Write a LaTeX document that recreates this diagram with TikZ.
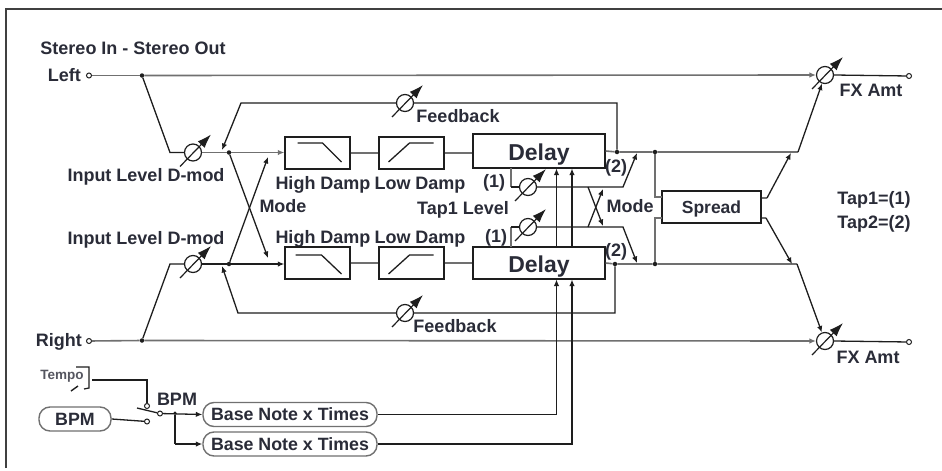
\documentclass[tikz,border=0pt]{standalone}
\usepackage{fontspec}
\setmainfont{Liberation Sans}[BoldFont={Liberation Sans Bold}]
\usetikzlibrary{arrows.meta,calc}
\definecolor{ink}{HTML}{1E1E1E}
\definecolor{txt}{HTML}{2A2C38}
\definecolor{sg}{HTML}{707070}
\tikzset{
  x=1pt,y=-1pt,
  sig/.style={draw=ink,line width=1.3pt},
  gsig/.style={draw=sg,line width=1.6pt},
  arr/.style={-{Latex[length=6.5pt,width=5.5pt]}},
  box/.style={draw=ink,line width=1.4pt,fill=white,inner sep=0pt,rectangle},
  rbox/.style={draw=sg,line width=1.4pt,fill=white,inner sep=0pt,rectangle,rounded corners=11pt,font=\fontsize{17.8}{20}\selectfont\bfseries,text=txt},
  lbl/.style={inner sep=0pt,font=\fontsize{18}{20}\selectfont\bfseries,text=txt},
  jn/.style={circle,fill=ink,inner sep=0pt,minimum size=4.5pt},
  term/.style={circle,draw=ink,line width=1pt,fill=white,inner sep=0pt,minimum size=5pt},
  potc/.style={circle,draw=ink,line width=1.2pt,fill=white,inner sep=0pt,minimum size=17pt},
  pota/.style={draw=ink,line width=1.2pt,-{Latex[length=14pt,width=9.5pt]}},
  glyph/.style={draw=ink,line width=1.3pt},
}
\newcommand{\potat}[3]{%
  \node[potc] (#1) at (#2,#3) {};%
  \draw[pota] ($(#1)+(-13,14)$) -- ($(#1)+(18,-18)$);%
}
\begin{document}
\begin{tikzpicture}
\useasboundingbox (0,0) rectangle (942,471);
\fill[white] (0,0) rectangle (942,471);
% frame
\coordinate (fa) at (6,468);
\coordinate (fb) at (6,9);
\coordinate (fc) at (942,9);
\draw[draw=ink!85,line width=2pt] (fa) -- (fb) -- (fc);

% labels
\node[lbl] (title) at (133,48) {Stereo In - Stereo Out};
\node[lbl,anchor=east] (lleft) at (81,75) {Left};
\node[lbl,anchor=east] (lright) at (82,342) {Right};
\node[lbl] (il1) at (146,177) {Input Level D-mod};
\node[lbl] (il2) at (146,240) {Input Level D-mod};
\node[lbl] (md1) at (283,206) {Mode};
\node[lbl] (md2) at (630,206) {Mode};
\node[lbl] (hl1) at (323,185) {High Damp};
\node[lbl] (hl2) at (323,239) {High Damp};
\node[lbl] (ll1) at (420,185) {Low Damp};
\node[lbl] (ll2) at (420,239) {Low Damp};
\node[lbl] (t1a) at (494,183) {(1)};
\node[lbl] (t1b) at (496,238) {(1)};
\node[lbl] (tl) at (463,210) {Tap1 Level};
\node[lbl] (t2a) at (616,168) {(2)};
\node[lbl] (t2b) at (616,252) {(2)};
\node[lbl] (fb1) at (458,116) {Feedback};
\node[lbl] (fb2) at (455,326) {Feedback};
\node[lbl] (fx1) at (871,90) {FX Amt};
\node[lbl] (fx2) at (868,357) {FX Amt};
\node[lbl] (tp1) at (874,200) {Tap1=(1)};
\node[lbl] (tp2) at (874,224) {Tap2=(2)};
\node[lbl] (bpml) at (177,399) {BPM};
\node[inner sep=0pt,font=\fontsize{13.5}{15}\selectfont\bfseries,text=txt!80] (tempo) at (62,376) {Tempo};

% terminals and junctions
\node[term] (inL) at (89,75.5) {};
\node[term] (inR) at (89,341) {};
\node[term] (outL) at (909,76) {};
\node[term] (outR) at (909,342) {};
\node[jn] (jL) at (142,75.5) {};
\node[jn] (jR) at (142,340.5) {};
\node[jn] (j1) at (229,152.5) {};
\node[jn] (j2) at (229,264) {};
\node[jn] (j3) at (617,152) {};
\node[jn] (j4) at (615,264) {};
\node[jn] (j5) at (655,152) {};
\node[jn] (j6) at (655,264) {};
\node[jn,minimum size=3.5pt] (j7) at (175,413) {};

% blocks
\node[box,minimum width=65pt,minimum height=32pt] (hd1) at (317.5,153) {};
\node[box,minimum width=65pt,minimum height=32pt] (hd2) at (317.5,263) {};
\node[box,minimum width=65pt,minimum height=32pt] (ld1) at (411.5,153) {};
\node[box,minimum width=65pt,minimum height=32pt] (ld2) at (411.5,263) {};
\node[box,minimum width=132pt,minimum height=34pt,text height=18pt,text depth=0pt,font=\fontsize{23}{25}\selectfont\bfseries,text=txt] (dl1) at (539,151) {Delay};
\node[box,minimum width=132pt,minimum height=32pt,text height=18pt,text depth=0pt,font=\fontsize{23}{25}\selectfont\bfseries,text=txt] (dl2) at (539,263) {Delay};
\node[box,minimum width=99pt,minimum height=32pt,text height=12pt,text depth=0pt,font=\fontsize{17.5}{19}\selectfont\bfseries,text=txt] (spr) at (711.5,207) {Spread};
\node[rbox,minimum width=174pt,minimum height=24pt] (bn1) at (290,414.5) {Base Note x Times};
\node[rbox,minimum width=174pt,minimum height=24pt] (bn2) at (290,444) {Base Note x Times};
\node[rbox,minimum width=72pt,minimum height=24pt] (bpm) at (75,419) {BPM};

% filter glyphs
\draw[glyph] ($(hd1)+(-20,-10)$) -- ($(hd1)+(5,-10)$) -- ($(hd1)+(24,9)$);
\draw[glyph] ($(hd2)+(-22,-8)$) -- ($(hd2)+(4,-8)$) -- ($(hd2)+(24,11)$);
\draw[glyph] ($(ld1)+(-23,9)$) -- ($(ld1)+(-2,-10)$) -- ($(ld1)+(22,-10)$);
\draw[glyph] ($(ld2)+(-23,11)$) -- ($(ld2)+(-2,-8)$) -- ($(ld2)+(22,-8)$);

% free corners
\coordinate (a1) at (170,152.5);
\coordinate (a2) at (170,264);
\coordinate (fbT1) at (241,103);
\coordinate (fbT2) at (617,103);
\coordinate (fbTe) at (222,150);
\coordinate (fbB1) at (238,313);
\coordinate (fbB2) at (615,313);
\coordinate (fbBe) at (222,266);
\coordinate (x1) at (268,258);
\coordinate (x2) at (268,157);
\coordinate (r1) at (798,152);
\coordinate (r2) at (797,264);
\coordinate (s1a) at (655,197);
\coordinate (s1b) at (662,197);
\coordinate (s2a) at (655,218);
\coordinate (s2b) at (662,218);
\coordinate (o1a) at (767,198);
\coordinate (o1b) at (791,153);
\coordinate (o2a) at (766,218);
\coordinate (o2b) at (792,264);
\coordinate (tp1a) at (511,168);
\coordinate (tp1b) at (511,187);
\coordinate (tp2a) at (511,247);
\coordinate (tp2b) at (511,227);
\coordinate (tq1a) at (623,187);
\coordinate (tq1b) at (637,153);
\coordinate (tq2a) at (623,227);
\coordinate (tq2b) at (637,263);
\coordinate (m1a) at (588,187);
\coordinate (m1b) at (603,226);
\coordinate (m2a) at (588,227);
\coordinate (m2b) at (603,189);

% pots
\potat{pi1}{193}{152.5}
\potat{pi2}{193}{264}
\potat{pf1}{405}{103}
\potat{pf2}{405}{313}
\potat{pt1}{528}{187}
\potat{pt2}{528}{227}
\potat{po1}{825}{75}
\potat{po2}{825}{341}

% main lines
\draw[gsig] (inL) -- (jL);
\draw[gsig,arr] (jL) -- (po1);
\draw[gsig] (inR) -- (jR);
\draw[gsig,arr] (jR) -- (po2);
\draw[sig] (po1.east) -- (outL);
\draw[sig] (po2.east) -- (outR);

% inputs
\draw[sig] (jL) -- (a1) -- (pi1);
\draw[sig] (jR) -- (a2) -- (pi2);
\draw[gsig] (pi1) -- (j1);
\draw[sig] (pi2) -- (j2);
\draw[gsig,arr] (j1) -- (j1 -| hd1.west);
\draw[sig,arr] (j2) -- (j2 -| hd2.west);
\draw[sig,arr] (j1) -- (x1);
\draw[sig,arr] (j2) -- (x2);

% chain
\draw[gsig] (hd1.east) -- (ld1.west);
\draw[gsig] (hd2.east) -- (ld2.west);
\draw[gsig] (ld1.east) -- (ld1.east -| dl1.west);
\draw[gsig] (ld2.east) -- (dl2.west);

% feedback
\draw[sig,arr] (j3) -- (fbT2) -- (pf1) -- (fbT1) -- (fbTe);
\draw[sig,arr] (j4) -- (fbB2) -- (pf2) -- (fbB1) -- (fbBe);

% delay outputs
\draw[gsig] (dl1.east) -- (j3) -- (j5) -- (r1);
\draw[gsig] (dl2.east) -- (j4) -- (j6) -- (r2);
\draw[sig,arr] (r1) -- (po1);
\draw[sig,arr] (r2) -- (po2);

% spread
\draw[gsig] (j5) -- (s1a) -- (s1b);
\draw[gsig] (j6) -- (s2a) -- (s2b);
\draw[gsig] (spr.east |- o1a) -- (o1a);
\draw[gsig] (spr.east |- o2a) -- (o2a);
\draw[sig,arr] (o1a) -- (o1b);
\draw[sig,arr] (o2a) -- (o2b);

% taps
\draw[draw=sg,line width=1.5pt] (tp1a) -- (tp1b);
\draw[draw=sg,line width=1.5pt] (tp2a) -- (tp2b);
\draw[sig] (tp1b) -- (pt1);
\draw[sig] (tp2b) -- (pt2);
\draw[sig,arr] (pt1) -- (tq1a) -- (tq1b);
\draw[sig,arr] (pt2) -- (tq2a) -- (tq2b);
\draw[sig,arr] (m1a) -- (m1b);
\draw[sig,arr] (m2a) -- (m2b);

% time lines
\coordinate (v1a) at (556.5,414.5);
\coordinate (v2a) at (572,444);
\coordinate (v1b) at (556.5,279.5);
\coordinate (v2b) at (572,279.5);
\coordinate (v1c) at (556.5,246);
\coordinate (v2c) at (572,246);
\coordinate (v1d) at (556.5,168.5);
\coordinate (v2d) at (572,168.5);
\draw[sig,arr] (bn1.east) -- (v1a) -- (v1b);
\draw[sig,arr] (bn2.east) -- (v2a) -- (v2b);
\draw[sig,arr] (v1c) -- (v1d);
\draw[sig,arr] (v2c) -- (v2d);

% tempo selector
\coordinate (br1) at (76,367);
\coordinate (br2) at (89,367);
\coordinate (br3) at (89,388);
\coordinate (br4) at (84,389);
\draw[draw=ink,line width=1.2pt] (br1) -- (br2) -- (br3) -- (br4);
\coordinate (ta) at (71,391);
\coordinate (tb) at (78,386);
\draw[draw=ink,line width=1.4pt] (ta) -- (tb);
\node[term] (sw1) at (147,406) {};
\node[term] (sw2) at (147,421.5) {};
\node[term] (sw3) at (160,413.5) {};
\coordinate (tc) at (92,380);
\coordinate (td) at (147,380);
\coordinate (sa) at (137,408);
\draw[sig] (tc) -- (td) -- (sw1);
\draw[sig] (bpm.east) -- (sw2);
\draw[sig] (sa) -- (sw3);
\draw[sig,arr] (sw3) -- (bn1.west);
\coordinate (jd) at (175,444);
\draw[sig] (j7) -- (jd);
\draw[sig,arr] (jd) -- (bn2.west);
\end{tikzpicture}
\end{document}
